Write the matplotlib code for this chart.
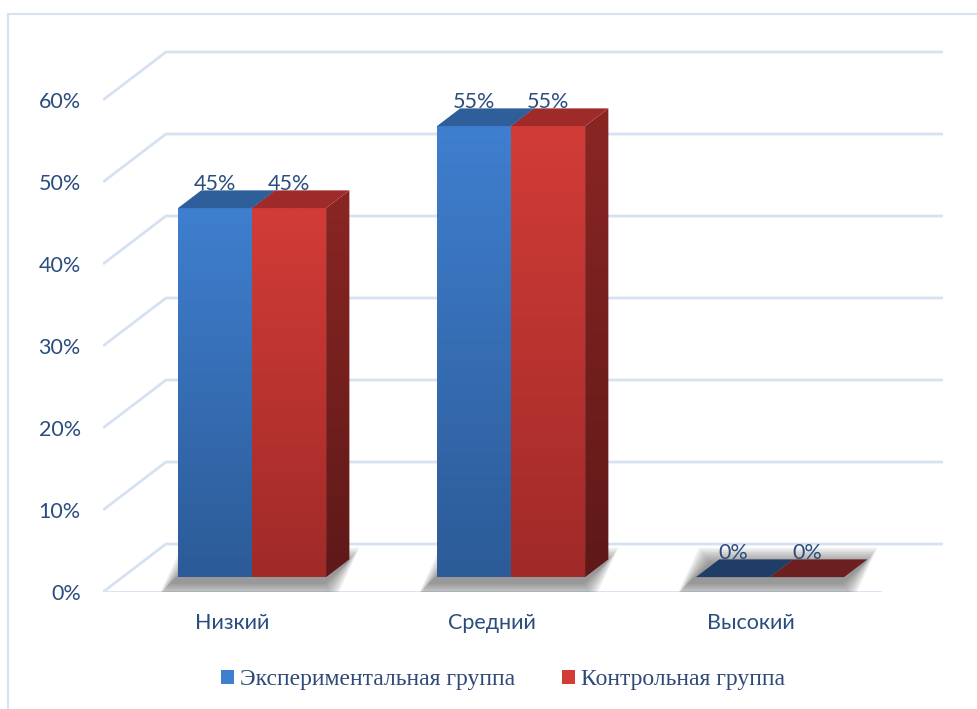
import numpy as np
import matplotlib
matplotlib.use("Agg")
import matplotlib.pyplot as plt
from matplotlib.patches import Polygon, Rectangle, Patch
from matplotlib.colors import LinearSegmentedColormap

# data
categories = ["Низкий", "Средний", "Высокий"]
series_names = ["Экспериментальная группа", "Контрольная группа"]
experimental = [45, 55, 0]
control = [45, 55, 0]
yticks = [0, 10, 20, 30, 40, 50, 60]

# styling
TXT = "#2B4C7E"
GRID = "#D6E1F1"
DX, DY = 0.243, 5.85        # depth offset of the floor (data units)
F0, F1 = 0.31, 0.68         # bar front/back depth fraction
BW = 0.286                  # width of one bar
FS = 15.5
face = {
    0: dict(top="#3F7FCF", bot="#2C5B97", side_t="#24497a", side_b="#1b3760",
            lid="#2F5F9B", flat="#1F3D66"),
    1: dict(top="#D23C37", bot="#A02A28", side_t="#8A2624", side_b="#5E1918",
            lid="#9E2B29", flat="#6B1F1E"),
}


def p(x, y, d):
    return (x + d * DX, y + d * DY)


def grad_face(ax, verts, c_top, c_bot, z):
    poly = Polygon(verts, closed=True, facecolor="none", edgecolor="none")
    ax.add_patch(poly)
    xs, ys = zip(*verts)
    cmap = LinearSegmentedColormap.from_list("g", [c_bot, c_top])
    img = ax.imshow(np.linspace(0, 1, 256).reshape(-1, 1),
                    extent=[min(xs), max(xs), min(ys), max(ys)],
                    origin="lower", cmap=cmap, aspect="auto", zorder=z)
    img.set_clip_path(poly)


fig = plt.figure(figsize=(9.77, 7.09), dpi=100)
ax = fig.add_axes([103 / 977, 1 - 592 / 709, 840 / 977, 542 / 709])

# outer frame
fig.patches.append(Rectangle((8 / 977, -0.1), 2, 1 - 14 / 709 + 0.1, fill=False,
                             edgecolor="#D6E1F1", lw=1.5,
                             transform=fig.transFigure))

# walls / gridlines
n = len(categories)
for v in yticks:
    xs = [p(-0.5, v, 0)[0], p(-0.5, v, 1)[0], p(n - 0.5, v, 1)[0]]
    ys = [p(-0.5, v, 0)[1], p(-0.5, v, 1)[1], p(n - 0.5, v, 1)[1]]
    ax.plot(xs, ys, color=GRID, lw=2, zorder=1, solid_capstyle="butt")
ax.plot([-0.5, n - 0.5], [0, 0], color=GRID, lw=2, zorder=1)

# bars
for i in range(n):
    # soft shadow under the pair of bars
    sx0, sx1 = i - BW - 0.03, i + BW - 0.01
    for k in range(8):
        e = 0.006 * (8 - k)
        ey = 0.25 * (8 - k)
        sh = [p(sx0 - e, -0.6 - ey, F0), p(sx1 + e, -0.6 - ey, F0),
              p(sx1 + e, -0.6 + ey, F1), p(sx0 - e, -0.6 + ey, F1)]
        ax.add_patch(Polygon(sh, closed=True, facecolor="#202020", alpha=0.07,
                             edgecolor="none", zorder=2))
    for s, vals in enumerate([experimental, control]):
        v = vals[i]
        x0 = i - BW + s * BW
        x1 = x0 + BW
        c = face[s]
        if v > 0:
            front = [p(x0, 0, F0), p(x1, 0, F0), p(x1, v, F0), p(x0, v, F0)]
            grad_face(ax, front, c["top"], c["bot"], 3 + s)
            side = [p(x1, 0, F0), p(x1, 0, F1), p(x1, v, F1), p(x1, v, F0)]
            grad_face(ax, side, c["side_t"], c["side_b"], 3 + s)
            lid_col = c["lid"]
        else:
            lid_col = c["flat"]
        top = [p(x0, v, F0), p(x1, v, F0), p(x1, v, F1), p(x0, v, F1)]
        ax.add_patch(Polygon(top, closed=True, facecolor=lid_col,
                             edgecolor="none", zorder=3 + s))
        tx, _ = p((x0 + x1) / 2, v, F0)
        _, ty = p(0, v, F1)
        ax.text(tx, ty, f"{v}%", ha="center", va="baseline", color=TXT,
                fontsize=FS, family="Lato", zorder=10)

ax.set_xlim(-0.5, -0.5 + 840 / 259)
ax.set_ylim(0, 542 / 8.2)
ax.set_xticks(range(n))
ax.set_xticklabels(categories, family="Lato", fontsize=FS, color=TXT)
ax.set_yticks(yticks)
ax.set_yticklabels([f"{t}%" for t in yticks], family="Lato", fontsize=FS, color=TXT)
ax.tick_params(axis="x", length=0, pad=15)
ax.tick_params(axis="y", length=0, pad=16)
for sp in ax.spines.values():
    sp.set_visible(False)
ax.patch.set_visible(False)

handles = [Patch(facecolor=face[0]["top"]), Patch(facecolor=face[1]["top"])]
fig.legend(handles, series_names, loc="center", bbox_to_anchor=(503 / 977, 1 - 680 / 709),
           ncol=2, frameon=False, handlelength=0.55, handleheight=0.55,
           handletextpad=0.25, columnspacing=2.0,
           prop={"family": "Liberation Serif", "size": 17}, labelcolor="#2F4A78")

fig.savefig("out.png", dpi=100)
